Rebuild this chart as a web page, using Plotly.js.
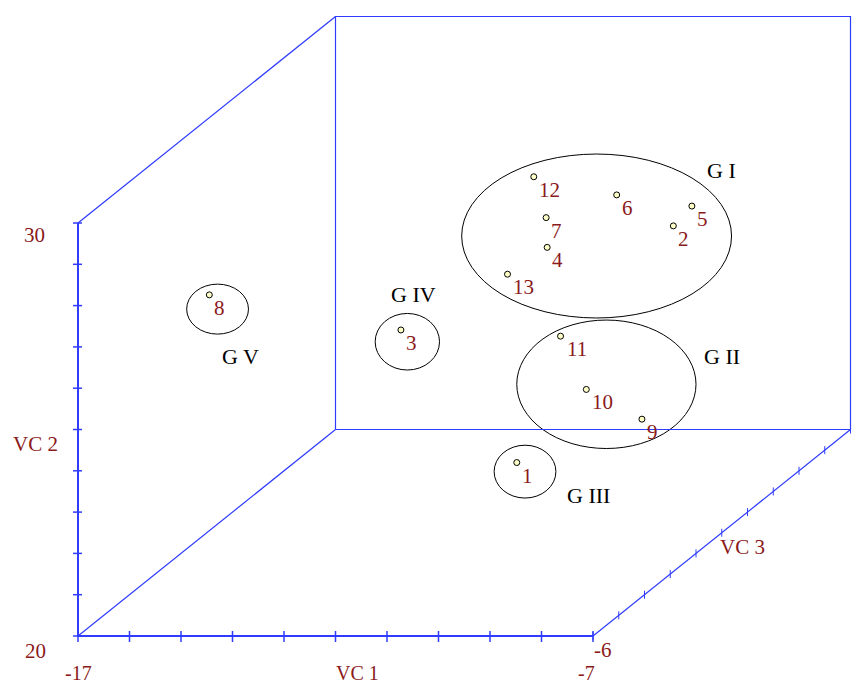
<!DOCTYPE html>
<html>
<head>
<meta charset="utf-8">
<script src="https://cdn.plot.ly/plotly-3.0.1.min.js"></script>
<style>
  html, body { margin: 0; padding: 0; background: #ffffff; }
  #chart { width: 856px; height: 686px; }
</style>
</head>
<body>
<div id="chart"></div>
<script>
// ---- Data (apparent positions, in VC 1 / VC 2 units) ----
const pointIds = ['1', '2', '3', '4', '5', '6', '7', '8', '9', '10', '11', '12', '13'];
const vc1 = [-8.48, -5.44, -10.73, -7.89, -5.08, -6.54, -7.91, -14.45, -6.05, -7.13, -7.63, -8.15, -8.66];
const vc2 = [24.20, 29.93, 27.41, 29.41, 30.41, 30.68, 30.13, 28.26, 25.25, 25.97, 27.26, 31.12, 28.76];

// groups (ellipse extents, VC 1 / VC 2 units)
const groupNames = ['G I', 'G II', 'G III', 'G IV', 'G V'];
const groupX0 = [-9.55, -8.48, -8.92, -11.23, -14.89];
const groupX1 = [-4.31, -5.00, -7.72, -9.98, -13.69];
const groupY0 = [27.70, 24.54, 23.34, 26.44, 27.31];
const groupY1 = [31.67, 27.65, 24.62, 27.81, 28.52];
const groupLabelX = [-4.50, -4.50, -7.08, -10.48, -13.85];
const groupLabelY = [31.27, 26.76, 23.39, 28.28, 26.76];

// axes
const vc1Ticks = [-17, -16, -15, -14, -13, -12, -11, -10, -9, -8, -7];
const vc2Ticks = [20, 21, 22, 23, 24, 25, 26, 27, 28, 29, 30];
const vc3Steps = [0, 1, 2, 3, 4, 5, 6, 7, 8, 9, 10];
const vc1Min = -17, vc1Max = -7, vc2Min = 20, vc2Max = 30, vc3Start = -6;

// ---- oblique projection of depth (VC 3) ----
const depthFactor = 0.5;
function proj(a, b, d) { return [a + depthFactor * d, b + depthFactor * d]; }

const blue = '#2f3cff';
const red = '#8b1a1a';
const font = 'Liberation Serif, Times New Roman, serif';
const fs = 21;

function seg(pts) {
  const x = [], y = [];
  pts.forEach(p => { if (p === null) { x.push(null); y.push(null); } else { x.push(p[0]); y.push(p[1]); } });
  return { x, y };
}

const dMax = vc3Steps[vc3Steps.length - 1];
// front axes (thick)
const front = seg([
  proj(vc1Min, vc2Max, 0), proj(vc1Min, vc2Min, 0), proj(vc1Max, vc2Min, 0)
]);
// back face + connectors (thin)
const back = seg([
  proj(vc1Min, vc2Min, dMax), proj(vc1Max, vc2Min, dMax), proj(vc1Max, vc2Max, dMax),
  proj(vc1Min, vc2Max, dMax), proj(vc1Min, vc2Min, dMax), null,
  proj(vc1Min, vc2Max, 0), proj(vc1Min, vc2Max, dMax), null,
  proj(vc1Min, vc2Min, 0), proj(vc1Min, vc2Min, dMax), null,
  proj(vc1Max, vc2Min, 0), proj(vc1Max, vc2Min, dMax)
]);

// tick marks
const xRange = [-18.5146, -1.8932];
const yRange = [18.7893, 35.3995];
const pxPerX = 856 / (xRange[1] - xRange[0]);
const pxPerY = 686 / (yRange[1] - yRange[0]);
const tickPts = [];
vc2Ticks.forEach(v => { tickPts.push([vc1Min - 5 / pxPerX, v], [vc1Min + 4 / pxPerX, v], null); });
vc1Ticks.forEach(v => { tickPts.push([v, vc2Min + 5 / pxPerY], [v, vc2Min - 6 / pxPerY], null); });
const thinTickPts = [];
vc3Steps.forEach(d => {
  const p = proj(vc1Max, vc2Min, d);
  thinTickPts.push([p[0], p[1] + 4 / pxPerY], [p[0], p[1] - 4 / pxPerY], null);
});
const ticks = seg(tickPts);
const thinTicks = seg(thinTickPts);

const traces = [
  { x: back.x, y: back.y, mode: 'lines', line: { color: blue, width: 1.2 }, hoverinfo: 'skip', showlegend: false },
  { x: thinTicks.x, y: thinTicks.y, mode: 'lines', line: { color: blue, width: 1 }, hoverinfo: 'skip', showlegend: false },
  { x: front.x, y: front.y, mode: 'lines', line: { color: blue, width: 2 }, hoverinfo: 'skip', showlegend: false },
  { x: ticks.x, y: ticks.y, mode: 'lines', line: { color: blue, width: 1.5 }, hoverinfo: 'skip', showlegend: false },
  { x: vc1, y: vc2, text: pointIds, mode: 'markers', hoverinfo: 'text',
    marker: { size: 6, color: '#ffffc8', line: { color: '#000000', width: 1 } }, showlegend: false }
];

const shapes = groupNames.map((g, i) => ({
  type: 'circle', xref: 'x', yref: 'y',
  x0: groupX0[i], x1: groupX1[i], y0: groupY0[i], y1: groupY1[i],
  line: { color: '#000000', width: 1 }, layer: 'below'
}));

const annotations = [];
pointIds.forEach((t, i) => annotations.push({
  x: vc1[i], y: vc2[i], text: t, showarrow: false, xanchor: 'center', yanchor: 'middle',
  xshift: 5 + t.length * 5.5, yshift: -13, font: { family: font, size: fs, color: red }
}));
groupNames.forEach((g, i) => annotations.push({
  x: groupLabelX[i], y: groupLabelY[i], text: g, showarrow: false,
  font: { family: font, size: fs + 1, color: '#000000' }
}));
// axis labels
const lab = (x, y, text, xs, ys, size) => ({ x, y, text, showarrow: false, xshift: xs, yshift: ys,
  borderpad: 0, font: { family: font, size: size || fs, color: red } });
annotations.push(lab(vc1Min, vc2Max, String(vc2Max), -43.5, -12));
annotations.push(lab(vc1Min, vc2Min, String(vc2Min), -43, -15));
annotations.push(lab(vc1Min, (vc2Min + vc2Max) / 2, 'VC 2', -42.5, -14));
annotations.push(lab(vc1Min, vc2Min, String(vc1Min), 0, -37, 20));
annotations.push(lab(vc1Max, vc2Min, String(vc1Max), -7, -37, 20));
annotations.push(lab((vc1Min + vc1Max) / 2, vc2Min, 'VC 1', 22, -37, 20));
annotations.push(lab(vc1Max, vc2Min, String(vc3Start), 10, -14));
const vc3Mid = proj(vc1Max, vc2Min, dMax / 2);
annotations.push(lab(vc3Mid[0], vc3Mid[1], 'VC 3', 21, -14));

const layout = {
  width: 856, height: 686,
  margin: { l: 0, r: 0, t: 0, b: 0 },
  paper_bgcolor: '#ffffff', plot_bgcolor: '#ffffff',
  xaxis: { range: xRange, visible: false, fixedrange: true },
  yaxis: { range: yRange, visible: false, fixedrange: true },
  shapes, annotations, showlegend: false
};

Plotly.newPlot('chart', traces, layout, { displayModeBar: false, staticPlot: true });
</script>
</body>
</html>
